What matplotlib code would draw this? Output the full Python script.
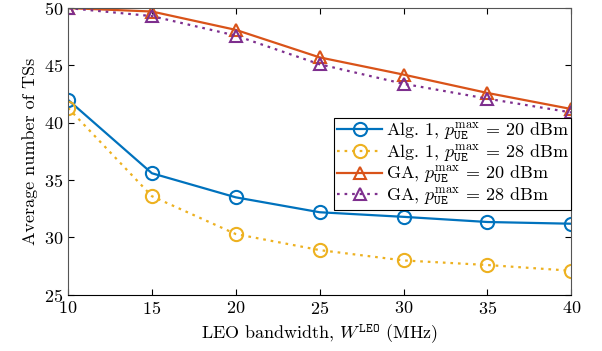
import matplotlib
matplotlib.use("Agg")
from matplotlib import pyplot as plt

plt.rcParams['font.family'] = 'serif'
plt.rcParams['font.serif'] = ['cmr10']
plt.rcParams['mathtext.fontset'] = 'cm'
plt.rcParams['axes.formatter.use_mathtext'] = True

bandwidth = [10, 15, 20, 25, 30, 35, 40]
alg1_20 = [42.0, 35.6, 33.5, 32.2, 31.8, 31.35, 31.2]
alg1_28 = [41.3, 33.6, 30.3, 28.9, 28.0, 27.6, 27.1]
ga_20 = [50.0, 49.7, 48.1, 45.7, 44.2, 42.6, 41.2]
ga_28 = [50.0, 49.3, 47.6, 45.1, 43.4, 42.1, 40.9]

fig = plt.figure(figsize=(6.02, 3.51), dpi=100)
ax = fig.add_axes([0.113, 0.16, 0.836, 0.817])

p = r'p_{\mathtt{UE}}^{\max}\,=\,'
ms = 9.5
dots = (0, (1.2, 2.2))
ax.plot(bandwidth, alg1_20, '-', color='#0072BD', lw=1.6, marker='o', ms=ms,
        mfc='none', mew=1.5, label=f'Alg. 1, ${p}20$ dBm')
ax.plot(bandwidth, alg1_28, linestyle=dots, color='#EDB120', lw=1.6, marker='o',
        ms=ms, mfc='none', mew=1.5, label=f'Alg. 1, ${p}28$ dBm')
ax.plot(bandwidth, ga_20, '-', color='#D95319', lw=1.6, marker='^', ms=ms - 1,
        mfc='none', mew=1.5, label=f'GA, ${p}20$ dBm')
ax.plot(bandwidth, ga_28, linestyle=dots, color='#7E2F8E', lw=1.6, marker='^',
        ms=ms - 1, mfc='none', mew=1.5, label=f'GA, ${p}28$ dBm')

ax.set_xlim(10, 40)
ax.set_ylim(25, 50)
ax.set_xticks(bandwidth)
ax.set_yticks([25, 30, 35, 40, 45, 50])
ax.tick_params(direction='in', labelsize=13, top=True, right=True, length=4)
for s in ['left', 'top', 'right']:
    ax.spines[s].set_color('#555555')
ax.set_xlabel(r'LEO bandwidth, $W^{\mathtt{LEO}}$ (MHz)', fontsize=13)
ax.set_ylabel('Average number of TSs', fontsize=13)

leg = ax.legend(loc='upper right', bbox_to_anchor=(1.0, 0.617), borderaxespad=0,
                fontsize=13, fancybox=False, edgecolor='black', framealpha=1,
                handlelength=2.5, handletextpad=0.2, labelspacing=0.0,
                borderpad=0.15)
leg.get_frame().set_linewidth(0.8)

fig.savefig('out.png', dpi=100)
